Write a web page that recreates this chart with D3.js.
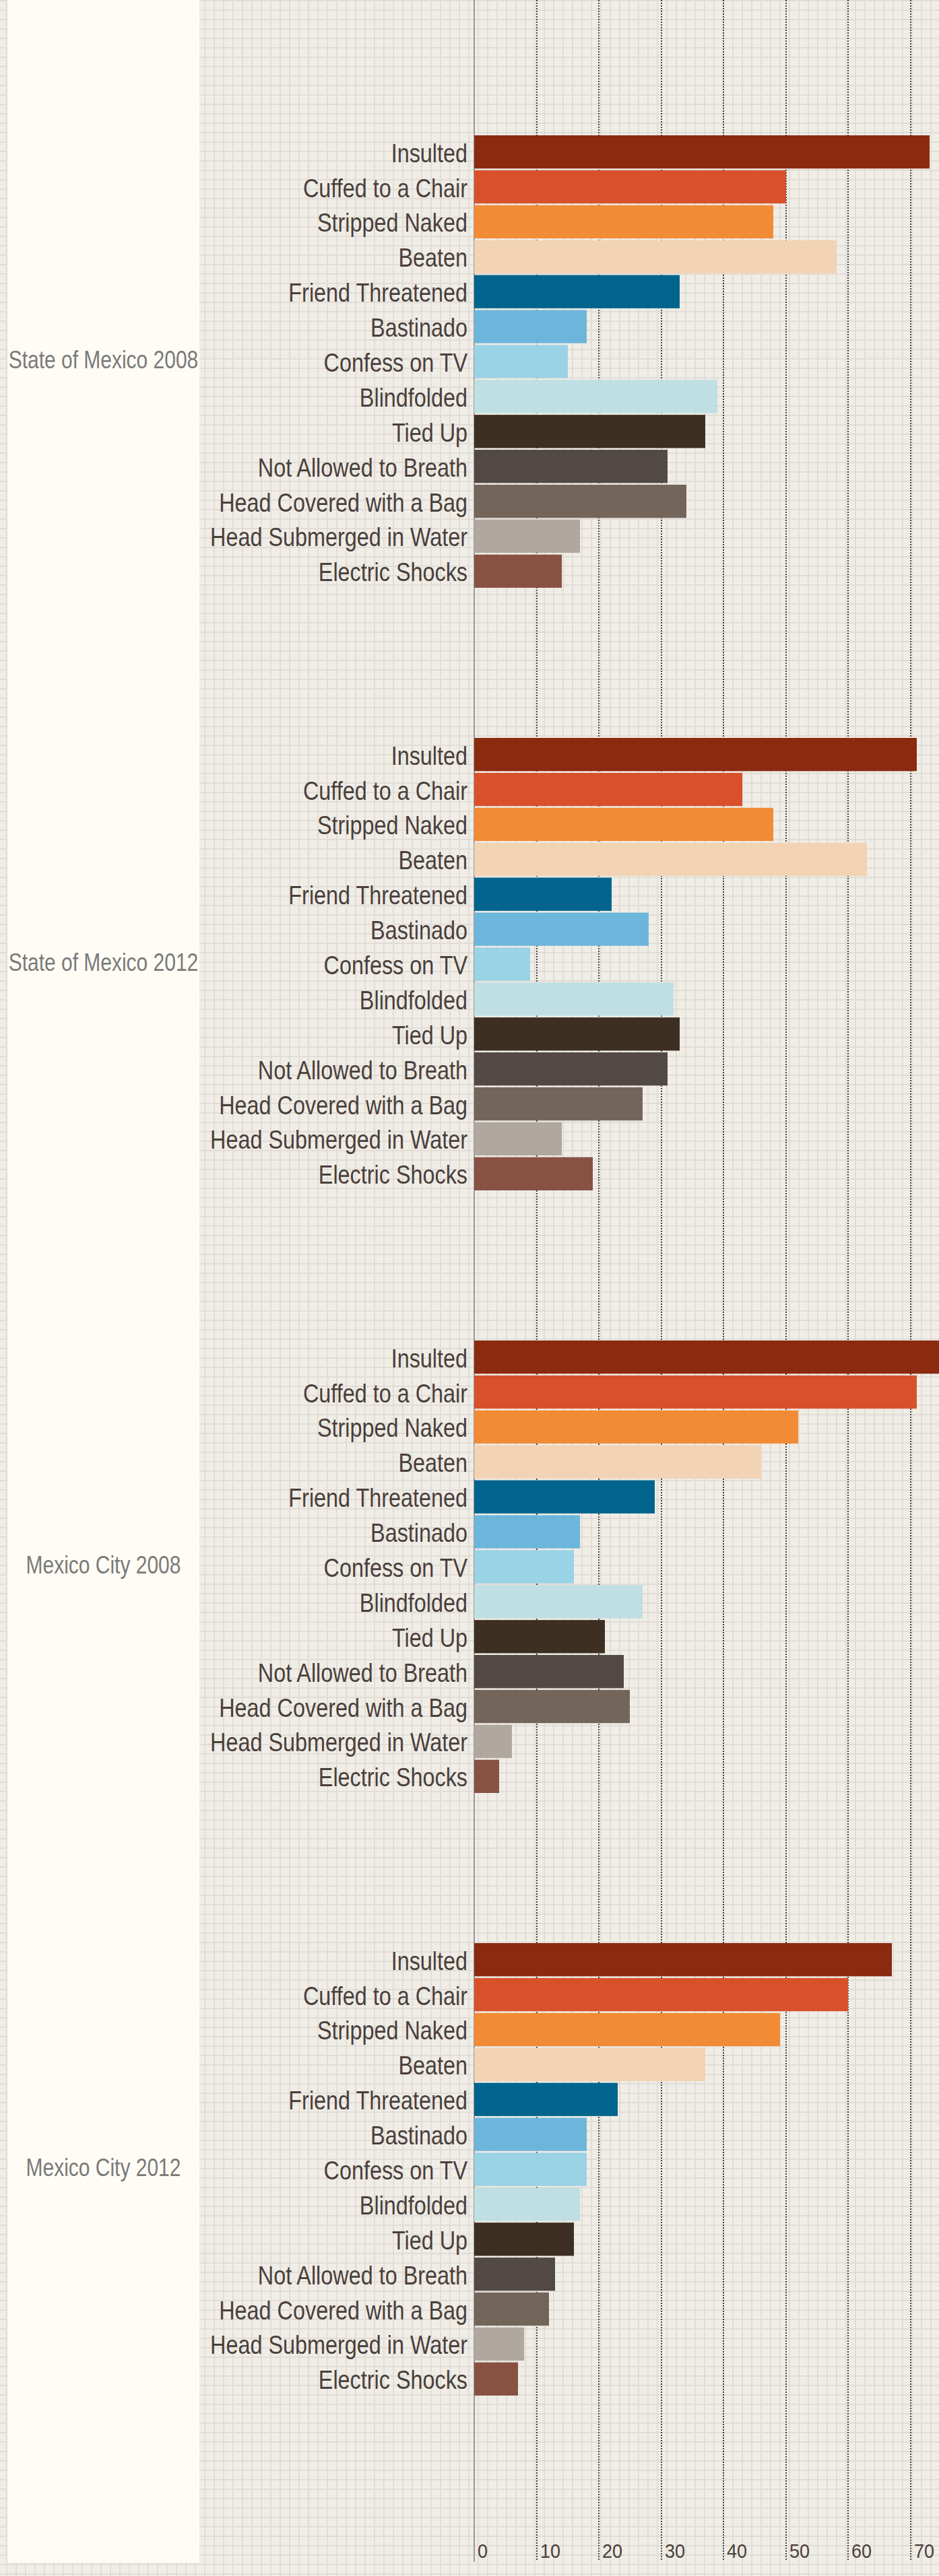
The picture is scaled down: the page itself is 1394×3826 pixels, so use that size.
<!DOCTYPE html>
<html>
<head>
<meta charset="utf-8">
<script src="https://cdn.jsdelivr.net/npm/d3@7"></script>
<style>
  html, body { margin: 0; padding: 0; background: #f0ede6; }
  svg { display: block; }
  text { font-family: "Liberation Sans", Arial, sans-serif; }
</style>
</head>
<body>
<div id="chart"></div>
<script>
// ---- data ----
const categories = [
  "Insulted", "Cuffed to a Chair", "Stripped Naked", "Beaten", "Friend Threatened",
  "Bastinado", "Confess on TV", "Blindfolded", "Tied Up", "Not Allowed to Breath",
  "Head Covered with a Bag", "Head Submerged in Water", "Electric Shocks"
];
const groups = ["State of Mexico 2008", "State of Mexico 2012", "Mexico City 2008", "Mexico City 2012"];
const stateOfMexico2008 = [73, 50, 48, 58, 33, 18, 15, 39, 37, 31, 34, 17, 14];
const stateOfMexico2012 = [71, 43, 48, 63, 22, 28, 9, 32, 33, 31, 27, 14, 19];
const mexicoCity2008   = [76, 71, 52, 46, 29, 17, 16, 27, 21, 24, 25, 6, 4];
const mexicoCity2012   = [67, 60, 49, 37, 23, 18, 18, 17, 16, 13, 12, 8, 7];
const tickValues = [0, 10, 20, 30, 40, 50, 60, 70];
const colors = [
  "#8a2a0f", "#d9512b", "#f28b36", "#f2d3b4", "#00648c",
  "#6db6db", "#9ad2e6", "#bfdfe3", "#3d2f21", "#524844",
  "#74655a", "#b0a89f", "#875243"
];

const seriesValues = [stateOfMexico2008, stateOfMexico2012, mexicoCity2008, mexicoCity2012];

// ---- layout ----
const W = 1394, H = 3826;
const axisBottom = 3802;

const svg = d3.select("#chart").append("svg")
  .attr("width", W).attr("height", H);

const defs = svg.append("defs");
const pat = defs.append("pattern")
  .attr("id", "grid").attr("patternUnits", "userSpaceOnUse")
  .attr("width", 14).attr("height", 14);
pat.append("rect").attr("width", 14).attr("height", 14).attr("fill", "#f0ede7");
pat.append("rect").attr("x", 9).attr("y", 0).attr("width", 2).attr("height", 14).attr("fill", "#e1ddd6");
pat.append("rect").attr("x", 0).attr("y", 0).attr("width", 14).attr("height", 2).attr("fill", "#e1ddd6");

svg.append("rect").attr("width", W).attr("height", H).attr("fill", "url(#grid)");

// left panel
svg.append("rect").attr("x", 11).attr("y", 0).attr("width", 285).attr("height", 3806).attr("fill", "#fffcf5");

const x = d3.scaleLinear().domain([0, 70]).range([704, 1352]).interpolate(d3.interpolateRound);

const yGroup = d3.scaleBand().domain(groups).range([89, 89 + 4 * 895]);
const yCat = d3.scaleBand().domain(categories).range([112, 784]).paddingInner(0.05);
const color = d3.scaleOrdinal().domain(categories).range(colors);

// axis with gridlines
const axis = d3.axisBottom(x).tickValues(tickValues).tickSize(axisBottom).offset(0).tickFormat(d3.format("d"));
const gAxis = svg.append("g").attr("class", "x-axis").call(axis);
gAxis.select(".domain").remove();
gAxis.selectAll(".tick line")
  .attr("stroke", d => d === 0 ? "#9a9a9a" : "#454545")
  .attr("stroke-width", 2)
  .attr("shape-rendering", "crispEdges")
  .attr("stroke-dasharray", d => d === 0 ? null : "2,2");
gAxis.selectAll(".tick").filter(d => d === 0).select("line").attr("y2", 3805);
gAxis.selectAll(".tick text")
  .attr("x", null).attr("y", null).attr("dy", null)
  .attr("transform", "translate(5,3799) scale(0.93,1)")
  .attr("text-anchor", "start")
  .attr("fill", "#4a3f3b")
  .style("font-size", "29px");

// groups
const gGroups = svg.append("g").selectAll("g.group")
  .data(groups.map((g, i) => ({ name: g, values: seriesValues[i] })))
  .join("g").attr("class", "group")
  .attr("transform", d => `translate(0,${yGroup(d.name)})`);

gGroups.selectAll("rect.bar")
  .data(d => categories.map((c, j) => ({ cat: c, value: d.values[j] })))
  .join("rect").attr("class", "bar")
  .attr("x", x(0))
  .attr("y", d => yCat(d.cat))
  .attr("width", d => x(d.value) - x(0))
  .attr("height", yCat.bandwidth())
  .attr("fill", d => color(d.cat));

gGroups.selectAll("text.cat")
  .data(categories)
  .join("text").attr("class", "cat")
  .attr("transform", d => `translate(694,${yCat(d) + yCat.bandwidth() / 2 + 15}) scale(0.83,1)`)
  .attr("text-anchor", "end")
  .attr("fill", "#4a3f3b")
  .style("font-size", "39px")
  .text(d => d);

gGroups.append("text").attr("class", "glabel")
  .attr("transform", `translate(153.5,${(112 + 784) / 2 + 10}) scale(0.81,1)`)
  .attr("text-anchor", "middle")
  .attr("fill", "#7a7a7a")
  .style("font-size", "37px")
  .text(d => d.name);
</script>
</body>
</html>
